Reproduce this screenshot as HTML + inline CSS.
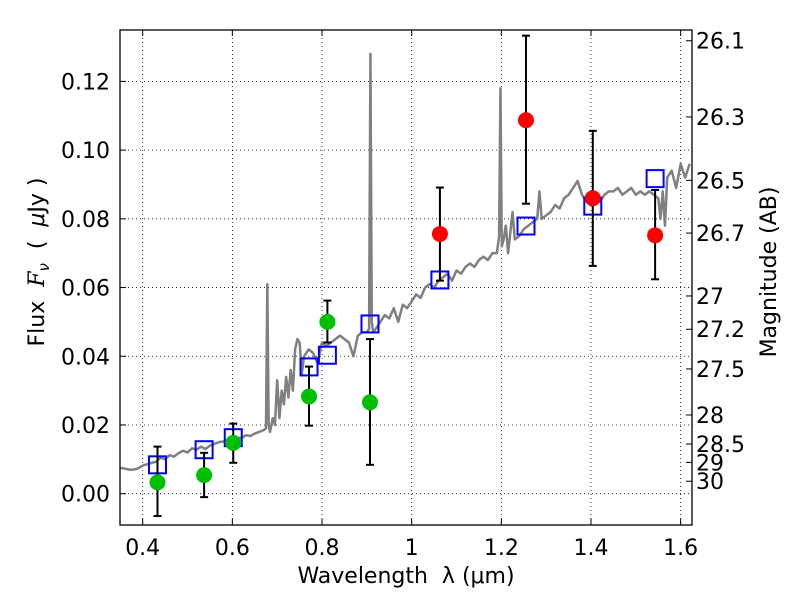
<!DOCTYPE html>
<html><head><meta charset="utf-8"><style>
body{margin:0;background:#fff;}
svg{display:block;font-family:"DejaVu Sans","Liberation Sans",sans-serif;}
.pre{white-space:pre;}
</style></head><body>
<svg id="chart" width="800" height="600"></svg>
<script>
const xTicks=[0.4,0.6,0.8,1.0,1.2,1.4,1.6];
const xTickLabels=["0.4","0.6","0.8","1","1.2","1.4","1.6"];
const yTicks=[0,0.02,0.04,0.06,0.08,0.10,0.12];
const yTickLabels=["0.00","0.02","0.04","0.06","0.08","0.10","0.12"];
const magTicks=[26.1,26.3,26.5,26.7,27,27.2,27.5,28,28.5,29,30];
const magLabels=["26.1","26.3","26.5","26.7","27","27.2","27.5","28","28.5","29","30"];
const greenLam=[0.433,0.537,0.602,0.771,0.812,0.907];
const greenFlux=[0.0033,0.0054,0.0148,0.0283,0.050,0.0266];
const greenHi=[0.0137,0.0119,0.0204,0.037,0.0562,0.045];
const greenLo=[-0.0065,-0.001,0.009,0.0198,0.044,0.0084];
const redLam=[1.063,1.255,1.404,1.543];
const redFlux=[0.0756,0.1087,0.086,0.0752];
const redHi=[0.0891,0.1333,0.1056,0.0884];
const redLo=[0.062,0.0844,0.0663,0.0624];
const modelLam=[0.433,0.537,0.602,0.771,0.812,0.907,1.063,1.255,1.404,1.543];
const modelFlux=[0.0084,0.0128,0.0163,0.0369,0.0403,0.0494,0.0622,0.0779,0.0837,0.0917];
const specLam=[0.35,0.36,0.37,0.38,0.39,0.40,0.41,0.42,0.43,0.44,0.45,0.46,0.47,0.48,0.49,0.50,0.51,0.52,0.53,0.54,0.55,0.56,0.57,0.58,0.59,0.60,0.61,0.62,0.63,0.64,0.65,0.66,0.67,0.675,0.678,0.681,0.684,0.69,0.695,0.70,0.705,0.71,0.715,0.72,0.725,0.73,0.735,0.74,0.745,0.75,0.755,0.76,0.77,0.78,0.79,0.80,0.81,0.82,0.83,0.84,0.85,0.86,0.87,0.88,0.89,0.90,0.905,0.908,0.911,0.914,0.92,0.93,0.94,0.95,0.96,0.97,0.98,0.99,1.00,1.01,1.02,1.03,1.04,1.05,1.06,1.07,1.08,1.09,1.10,1.11,1.12,1.13,1.14,1.15,1.16,1.17,1.18,1.19,1.195,1.198,1.201,1.205,1.21,1.215,1.22,1.225,1.23,1.24,1.25,1.26,1.27,1.28,1.285,1.29,1.30,1.31,1.32,1.33,1.34,1.35,1.36,1.37,1.38,1.39,1.40,1.41,1.42,1.43,1.44,1.45,1.46,1.47,1.48,1.49,1.50,1.51,1.52,1.53,1.54,1.55,1.555,1.56,1.565,1.57,1.58,1.59,1.60,1.61,1.62];
const specFlux=[0.0075,0.0073,0.0070,0.0070,0.0074,0.0082,0.0086,0.0090,0.0093,0.0105,0.0100,0.0112,0.0108,0.0118,0.0125,0.0120,0.0132,0.0128,0.0137,0.0130,0.0140,0.0145,0.0150,0.0152,0.0150,0.0158,0.0163,0.0162,0.0170,0.0168,0.0175,0.0180,0.0185,0.019,0.061,0.020,0.018,0.022,0.020,0.033,0.022,0.030,0.026,0.034,0.028,0.036,0.030,0.042,0.045,0.044,0.035,0.040,0.042,0.041,0.038,0.044,0.043,0.044,0.045,0.046,0.045,0.044,0.040,0.046,0.047,0.047,0.048,0.128,0.050,0.047,0.048,0.050,0.052,0.051,0.054,0.050,0.055,0.054,0.056,0.058,0.057,0.060,0.061,0.060,0.062,0.063,0.064,0.062,0.065,0.064,0.066,0.067,0.066,0.068,0.069,0.068,0.070,0.070,0.075,0.118,0.072,0.074,0.078,0.070,0.076,0.082,0.074,0.075,0.077,0.078,0.079,0.080,0.088,0.080,0.081,0.082,0.084,0.083,0.086,0.087,0.089,0.091,0.087,0.085,0.084,0.086,0.085,0.087,0.088,0.088,0.089,0.087,0.088,0.089,0.087,0.088,0.087,0.088,0.087,0.086,0.080,0.088,0.078,0.092,0.094,0.089,0.096,0.092,0.096];

const NS="http://www.w3.org/2000/svg";
const svg=document.getElementById('chart');
const L=120,R=692,T=30,B=525;
function xs(l){return 142.7+(l-0.4)*448.3;}
function ys(v){return 493.7-v*3436;}
function magToFlux(m){return Math.pow(10,(23.9-m)/2.5);}
function el(tag,attrs,parent){const e=document.createElementNS(NS,tag);for(const k in attrs)e.setAttribute(k,attrs[k]);(parent||svg).appendChild(e);return e;}
function txt(s,attrs,parent){const e=el('text',attrs,parent);e.textContent=s;return e;}

const clip=el('clipPath',{id:'pc'});el('rect',{x:L,y:T,width:R-L,height:B-T},clip);

const grid=el('g',{});


xTicks.forEach(t=>{el('line',{x1:xs(t),x2:xs(t),y1:T,y2:B,stroke:'#000','stroke-width':0.8,'stroke-dasharray':'1,3'},grid);});
yTicks.forEach(t=>{el('line',{x1:L,x2:R,y1:ys(t),y2:ys(t),stroke:'#000','stroke-width':0.8,'stroke-dasharray':'1,3'},grid);});

const plot=el('g',{'clip-path':'url(#pc)'});
const spec=el('polyline',{points:specLam.map((l,i)=>xs(l)+','+ys(specFlux[i])).join(' '),fill:'none',stroke:'#808080','stroke-width':2.5,'stroke-linejoin':'round'},plot);



function errbars(lams,hi,lo,name){
  lams.forEach((l,i)=>{
    const g=el('g',{stroke:'#000','stroke-width':2},plot);
    
    
    const x=xs(l);
    el('line',{x1:x,x2:x,y1:ys(hi[i]),y2:ys(lo[i])},g);
    el('line',{x1:x-4,x2:x+4,y1:ys(hi[i]),y2:ys(hi[i])},g);
    el('line',{x1:x-4,x2:x+4,y1:ys(lo[i]),y2:ys(lo[i])},g);
  });
}
modelLam.forEach((l,i)=>{
  const r=el('rect',{x:xs(l)-8.5,y:ys(modelFlux[i])-8.5,width:17,height:17,fill:'none',stroke:'#0000ff','stroke-width':2},plot);
  
  
});
errbars(greenLam,greenHi,greenLo,'green');
errbars(redLam,redHi,redLo,'red');
greenLam.forEach((l,i)=>{
  const c=el('circle',{cx:xs(l),cy:ys(greenFlux[i]),r:8,fill:'#00bf00'},plot);
  
  
});
redLam.forEach((l,i)=>{
  const c=el('circle',{cx:xs(l),cy:ys(redFlux[i]),r:8,fill:'#ff0000'},plot);
  
  
});

const frame=el('rect',{x:L,y:T,width:R-L,height:B-T,fill:'none',stroke:'#000','stroke-width':1.3});



const xax=el('g',{});


xTicks.forEach((t,i)=>{
  el('line',{x1:xs(t),x2:xs(t),y1:B,y2:B-6,stroke:'#000'},xax);
  el('line',{x1:xs(t),x2:xs(t),y1:T,y2:T+6,stroke:'#000'},xax);
  txt(xTickLabels[i],{x:xs(t),y:B+30,'font-size':22,'text-anchor':'middle'},xax);
});
const yax=el('g',{});


yTicks.forEach((t,i)=>{
  el('line',{x1:L,x2:L+6,y1:ys(t),y2:ys(t),stroke:'#000'},yax);
  txt(yTickLabels[i],{x:L-10,y:ys(t)+8,'font-size':22,'text-anchor':'end'},yax);
});
const max=el('g',{});


magTicks.forEach((m,i)=>{
  const y=ys(magToFlux(m));
  el('line',{x1:R,x2:R-6,y1:y,y2:y,stroke:'#000'},max);
  txt(magLabels[i],{x:R+4,y:y+8,'font-size':22},max);
});
const xl=txt('Wavelength  λ (μm)',{x:406,y:583,'font-size':22,'text-anchor':'middle','class':'pre'});


const yl=el('text',{x:0,y:0,'font-size':22,'text-anchor':'middle','class':'pre',transform:'translate(44,262) rotate(-90)'});
yl.innerHTML='Flux  <tspan font-style="italic" font-family="DejaVu Serif, serif">F</tspan><tspan font-style="italic" font-size="15" dy="5">ν</tspan><tspan dy="-5">  (  </tspan><tspan font-style="italic">μ</tspan>Jy )';


const rl=txt('Magnitude (AB)',{x:0,y:0,'font-size':22,'text-anchor':'middle',transform:'translate(776,272) rotate(-90)'});


</script>
</body></html>
